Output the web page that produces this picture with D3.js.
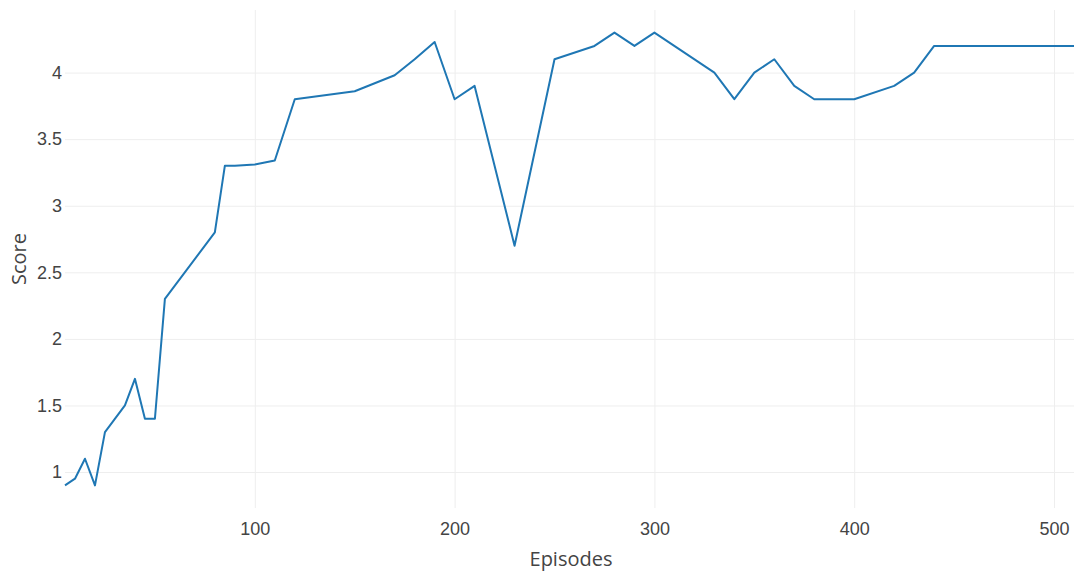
<!DOCTYPE html>
<html>
<head>
<meta charset="utf-8">
<script src="https://cdn.jsdelivr.net/npm/d3@7"></script>
<style>
  body { margin: 0; background: #fff; }
  svg { font-family: "Open Sans", sans-serif; }
  .tick text { fill: #444; }
</style>
</head>
<body>
<svg id="chart" width="1074" height="576"></svg>
<script>
// Daten
var episodes = [5, 10, 15, 20, 25, 35, 40, 45, 50, 55, 80, 85, 90, 100, 110, 120, 150, 170, 180, 190,
                200, 210, 230, 250, 270, 280, 290, 300, 330, 340, 350, 360, 370, 380, 400, 420, 430, 440, 510];
var scores = [0.9, 0.95, 1.1, 0.9, 1.3, 1.5, 1.7, 1.4, 1.4, 2.3, 2.8, 3.3, 3.3, 3.31, 3.34, 3.8, 3.86, 3.98, 4.1, 4.23,
              3.8, 3.9, 2.7, 4.1, 4.2, 4.3, 4.2, 4.3, 4.0, 3.8, 4.0, 4.1, 3.9, 3.8, 3.8, 3.9, 4.0, 4.2, 4.2];
var xTicks = [100, 200, 300, 400, 500];
var yTicks = [1, 1.5, 2, 2.5, 3, 3.5, 4];

var svg = d3.select("#chart");
var m = {left: 65, right: 0, top: 10, bottom: 68};
var w = 1074 - m.left - m.right, h = 576 - m.top - m.bottom;

var pad = (d3.max(scores) - d3.min(scores)) * 0.05;
var x = d3.scaleLinear().domain([5, 510]).range([0, w]);
var y = d3.scaleLinear().domain([d3.min(scores) - pad, d3.max(scores) + pad]).range([h, 0]);

var g = svg.append("g").attr("transform", "translate(" + m.left + "," + m.top + ")");

// Gitter + Achsen
var xa = g.append("g").attr("transform", "translate(0," + h + ")")
  .call(d3.axisBottom(x).tickValues(xTicks).tickSize(-h).tickPadding(14).tickFormat(d3.format("d")));
var ya = g.append("g")
  .call(d3.axisLeft(y).tickValues(yTicks).tickSize(-w).tickPadding(3).tickFormat(function(d) { return String(d); }));

[xa, ya].forEach(function(a) {
  a.select(".domain").remove();
  a.selectAll(".tick line").attr("stroke", "#eee").attr("stroke-width", 1);
  a.selectAll(".tick text").style("font-size", "18px").attr("fill", "#444");
});

// Linie
var line = d3.line().x(function(d, i) { return x(episodes[i]); }).y(function(d) { return y(d); });
g.append("path").datum(scores)
  .attr("fill", "none").attr("stroke", "#1f77b4").attr("stroke-width", 2)
  .attr("stroke-linejoin", "round")
  .attr("d", line);

// Achsentitel
svg.append("text").attr("x", 571).attr("y", 566).attr("text-anchor", "middle")
  .attr("fill", "#444").style("font-size", "20px").text("Episodes");
svg.append("text").attr("transform", "translate(26," + (m.top + h / 2) + ") rotate(-90)")
  .attr("text-anchor", "middle").attr("fill", "#444").style("font-size", "20px").text("Score");
</script>
</body>
</html>
